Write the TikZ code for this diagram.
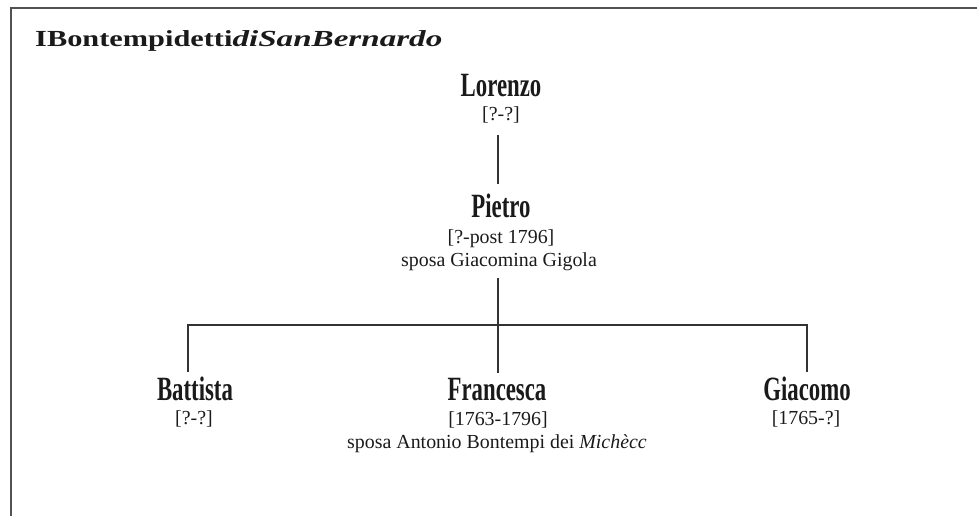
\documentclass[tikz,border=0pt]{standalone}
\usepackage{fontspec}
\setmainfont{Liberation Serif}
\newfontfamily\namefont{Liberation Serif}[FakeStretch=0.67]
\newfontfamily\titlefont{Liberation Serif}[FakeStretch=1.32]
\newfontfamily\titleitfont{Liberation Serif}[FakeStretch=1.44]
\definecolor{linecol}{HTML}{333333}
\definecolor{textcol}{HTML}{1A1A1A}
\tikzset{
  person/.style={anchor=base, inner sep=0pt, text=textcol, font=\namefont\bfseries\fontsize{34}{34}\selectfont},
  info/.style={anchor=base, inner sep=0pt, text=textcol, font=\fontsize{19.9}{22}\selectfont},
  tree/.style={draw=linecol, line width=1.3pt},
  frameline/.style={draw=linecol!85, line width=1.6pt}
}
\begin{document}
\begin{tikzpicture}[x=1pt,y=-1pt]
\useasboundingbox (0,0) rectangle (977,516);
\draw[frameline] (977,8) -- (11,8) -- (11,516);
\node[anchor=base west, inner sep=0pt, text=textcol] (title) at (35,47)
  {{\titlefont\bfseries\fontsize{23}{23}\selectfont IBontempidetti}{\titleitfont\bfseries\itshape\fontsize{23}{23}\selectfont diSanBernardo}};
\coordinate (fork) at (498,325);
\node[person] (lorenzo) at (501,97) {Lorenzo};
\node[info] (lorenzoD) at (501,121) {[?-?]};
\node[person] (pietro) at (501,217) {Pietro};
\node[info] (pietroD) at (501,243) {[?-post 1796]};
\node[info] (pietroS) at (499,266) {sposa Giacomina Gigola};
\node[person] (battista) at (195,400) {Battista};
\node[info] (battistaD) at (194,424) {[?-?]};
\node[person] (francesca) at (497,400) {Francesca};
\node[info] (francescaD) at (498,425) {[1763-1796]};
\node[info] (francescaS) at (497,448) {sposa Antonio Bontempi dei \textit{Michècc}};
\node[person] (giacomo) at (807,400) {Giacomo};
\node[info] (giacomoD) at (806,424) {[1765-?]};
\draw[tree, shorten <=11.6pt, shorten >=9.5pt] (lorenzoD.south -| fork) -- (pietro.north -| fork);
\draw[tree, shorten <=7.5pt] (pietroS.south -| fork) -- (fork);
\draw[tree, shorten <=4.5pt, shorten >=4.5pt] ([xshift=-7pt]battista.north) |- (fork) -| (giacomo.north);
\draw[tree, shorten >=4.5pt] (fork) -- (francesca.north -| fork);
\end{tikzpicture}
\end{document}
